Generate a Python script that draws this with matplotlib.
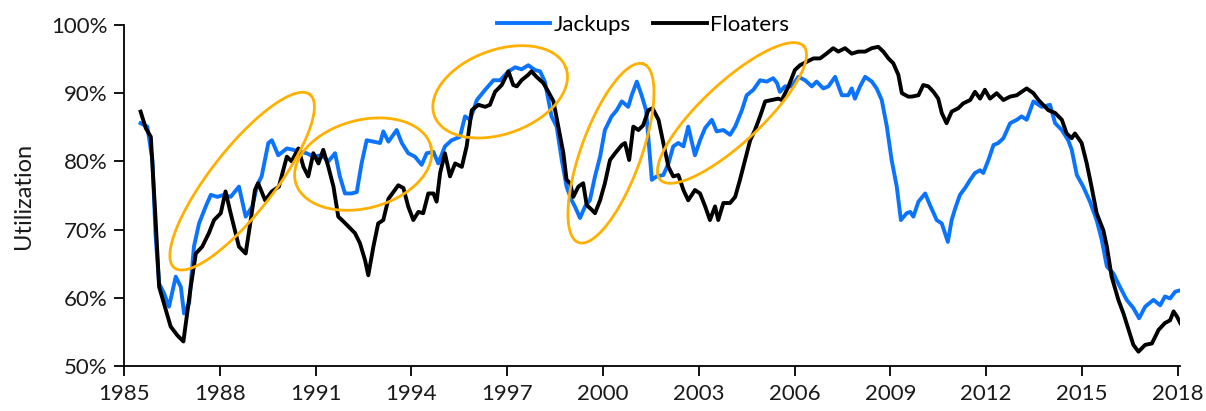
import numpy as np
import matplotlib
matplotlib.use("Agg")
import matplotlib.pyplot as plt
from matplotlib.ticker import FuncFormatter

# ---------------- data ----------------
jack_years = [1985.52, 1985.73, 1985.89, 1985.99, 1986.10, 1986.25, 1986.41, 1986.62, 1986.78, 1986.88,
              1987.04, 1987.19, 1987.35, 1987.56, 1987.72, 1987.92, 1988.13, 1988.34, 1988.60, 1988.81,
              1989.02, 1989.17, 1989.31, 1989.52, 1989.63, 1989.83, 1990.10, 1990.30, 1990.51, 1990.72,
              1990.93, 1991.19, 1991.40, 1991.61, 1991.76, 1991.92, 1992.13, 1992.29, 1992.44, 1992.60,
              1992.81, 1993.02, 1993.12, 1993.28, 1993.54, 1993.70, 1993.90, 1994.11, 1994.32, 1994.48,
              1994.69, 1994.84, 1995.05, 1995.26, 1995.52, 1995.68, 1995.84, 1996.05, 1996.31, 1996.57,
              1996.78, 1997.04, 1997.25, 1997.45, 1997.66, 1997.87, 1998.03, 1998.18, 1998.29, 1998.39,
              1998.55, 1998.71, 1998.86, 1999.02, 1999.12, 1999.28, 1999.44, 1999.59, 1999.75, 1999.91,
              2000.06, 2000.27, 2000.43, 2000.59, 2000.79, 2000.90, 2001.06, 2001.21, 2001.35, 2001.42,
              2001.53, 2001.68, 2001.89, 2002.05, 2002.20, 2002.36, 2002.52, 2002.67, 2002.88, 2003.04,
              2003.20, 2003.41, 2003.56, 2003.77, 2003.98, 2004.14, 2004.35, 2004.50, 2004.71, 2004.92,
              2005.13, 2005.33, 2005.45, 2005.54, 2005.70, 2005.91, 2006.12, 2006.33, 2006.54, 2006.69,
              2006.90, 2007.06, 2007.27, 2007.48, 2007.68, 2007.79, 2007.89, 2008.05, 2008.21, 2008.42,
              2008.57, 2008.73, 2008.89, 2009.04, 2009.20, 2009.33, 2009.51, 2009.62, 2009.72, 2009.88,
              2010.09, 2010.24, 2010.45, 2010.61, 2010.80, 2010.92, 2011.03, 2011.18, 2011.34, 2011.50,
              2011.65, 2011.81, 2011.91, 2012.07, 2012.23, 2012.38, 2012.54, 2012.75, 2012.96, 2013.11,
              2013.27, 2013.48, 2013.64, 2013.74, 2014.00, 2014.16, 2014.37, 2014.57, 2014.68, 2014.84,
              2015.04, 2015.25, 2015.46, 2015.62, 2015.78, 2015.98, 2016.19, 2016.40, 2016.61, 2016.79,
              2016.98, 2017.24, 2017.45, 2017.60, 2017.76, 2017.92, 2018.08]
jack_vals = [85.6, 85.1, 80.2, 69.0, 62.1, 60.7, 58.7, 63.1, 61.6, 57.7,
             59.2, 67.5, 70.9, 73.4, 75.1, 74.8, 75.1, 74.8, 76.3, 71.9,
             73.4, 76.5, 77.8, 82.7, 83.1, 80.9, 81.9, 81.7, 81.4, 81.2,
             80.7, 80.9, 80.0, 81.2, 77.8, 75.3, 75.3, 75.5, 79.7, 83.1,
             82.9, 82.7, 84.4, 82.9, 84.6, 82.7, 81.2, 80.7, 79.5, 81.2,
             81.4, 79.7, 82.2, 83.1, 83.6, 86.6, 86.1, 89.0, 90.5, 91.9,
             91.9, 93.2, 93.8, 93.5, 94.1, 93.4, 93.2, 91.7, 89.0, 86.6,
             85.1, 80.2, 76.3, 74.3, 73.4, 71.7, 73.4, 74.3, 77.8, 80.7,
             84.6, 86.6, 87.5, 88.8, 88.0, 89.7, 91.7, 89.7, 87.5, 83.6,
             77.3, 77.8, 78.0, 79.7, 82.2, 82.7, 82.2, 85.1, 80.9, 83.1,
             84.9, 86.1, 84.4, 84.6, 83.9, 85.1, 87.5, 89.7, 90.5, 91.9,
             91.7, 92.2, 91.5, 90.2, 91.0, 91.0, 92.4, 91.9, 91.0, 91.7,
             90.7, 91.0, 92.4, 89.7, 89.7, 90.7, 89.2, 91.0, 92.4, 91.7,
             90.7, 89.0, 85.1, 80.2, 76.3, 71.4, 72.4, 72.6, 71.9, 74.1,
             75.3, 73.6, 71.4, 70.9, 68.2, 71.4, 73.1, 75.1, 76.1, 77.3,
             78.3, 78.7, 78.3, 80.2, 82.4, 82.7, 83.4, 85.6, 86.1, 86.6,
             86.1, 88.8, 88.3, 88.0, 88.3, 85.6, 84.6, 83.1, 81.7, 78.0,
             76.3, 74.1, 71.4, 68.5, 64.6, 63.6, 61.6, 59.7, 58.5, 57.0,
             58.7, 59.7, 58.9, 60.2, 59.9, 60.9, 61.1]

float_years = [1985.52, 1985.68, 1985.84, 1985.99, 1986.10, 1986.25, 1986.46, 1986.67, 1986.86, 1987.09,
               1987.25, 1987.45, 1987.66, 1987.82, 1988.03, 1988.18, 1988.34, 1988.60, 1988.81, 1988.97,
               1989.10, 1989.20, 1989.42, 1989.63, 1989.85, 1990.10, 1990.25, 1990.46, 1990.62, 1990.77,
               1990.93, 1991.09, 1991.24, 1991.40, 1991.56, 1991.71, 1991.87, 1992.08, 1992.23, 1992.39,
               1992.55, 1992.65, 1992.81, 1992.96, 1993.12, 1993.28, 1993.59, 1993.75, 1993.90, 1994.06,
               1994.22, 1994.37, 1994.53, 1994.69, 1994.79, 1994.90, 1995.05, 1995.21, 1995.37, 1995.58,
               1995.73, 1995.89, 1996.10, 1996.31, 1996.46, 1996.62, 1996.83, 1997.04, 1997.19, 1997.30,
               1997.45, 1997.66, 1997.76, 1997.92, 1998.13, 1998.29, 1998.45, 1998.60, 1998.76, 1998.86,
               1998.97, 1999.07, 1999.23, 1999.38, 1999.49, 1999.65, 1999.75, 1999.91, 2000.06, 2000.22,
               2000.38, 2000.59, 2000.69, 2000.82, 2000.95, 2001.11, 2001.26, 2001.42, 2001.55, 2001.74,
               2001.89, 2002.05, 2002.20, 2002.36, 2002.52, 2002.67, 2002.88, 2003.04, 2003.20, 2003.35,
               2003.51, 2003.61, 2003.77, 2003.98, 2004.14, 2004.29, 2004.45, 2004.61, 2004.76, 2004.92,
               2005.08, 2005.28, 2005.49, 2005.60, 2005.81, 2006.01, 2006.17, 2006.38, 2006.59, 2006.80,
               2007.00, 2007.21, 2007.37, 2007.58, 2007.79, 2008.00, 2008.21, 2008.42, 2008.62, 2008.78,
               2008.94, 2009.09, 2009.25, 2009.36, 2009.56, 2009.67, 2009.88, 2010.03, 2010.19, 2010.35,
               2010.50, 2010.61, 2010.76, 2010.92, 2011.13, 2011.28, 2011.50, 2011.65, 2011.81, 2011.96,
               2012.12, 2012.33, 2012.54, 2012.75, 2012.96, 2013.11, 2013.27, 2013.48, 2013.64, 2013.74,
               2013.95, 2014.16, 2014.37, 2014.52, 2014.68, 2014.78, 2014.99, 2015.15, 2015.30, 2015.46,
               2015.67, 2015.78, 2015.93, 2016.14, 2016.30, 2016.46, 2016.61, 2016.77, 2016.98, 2017.19,
               2017.40, 2017.60, 2017.76, 2017.87, 2017.97, 2018.08]
float_vals = [87.3, 84.9, 83.6, 71.4, 61.6, 59.2, 55.8, 54.5, 53.6, 61.6,
              66.5, 67.5, 69.5, 71.4, 72.4, 75.6, 72.4, 67.5, 66.5, 71.4,
              75.8, 76.8, 74.3, 75.6, 76.3, 80.7, 80.0, 81.9, 79.2, 77.8,
              81.2, 79.7, 81.7, 79.2, 76.3, 71.9, 71.2, 70.2, 69.5, 68.0,
              65.5, 63.3, 67.5, 70.9, 71.4, 74.5, 76.5, 76.1, 73.4, 71.4,
              72.6, 72.4, 75.3, 75.3, 74.1, 78.3, 81.2, 77.8, 79.7, 79.2,
              82.2, 87.5, 88.3, 88.0, 88.3, 90.2, 91.2, 93.2, 91.2, 91.0,
              91.9, 92.7, 93.2, 92.4, 91.5, 90.2, 88.8, 85.1, 81.2, 77.3,
              76.8, 74.8, 76.3, 76.8, 73.6, 72.9, 72.4, 74.3, 76.8, 80.2,
              81.2, 82.4, 82.7, 80.2, 85.1, 84.6, 85.3, 87.5, 87.8, 86.1,
              82.7, 79.2, 77.8, 78.0, 75.8, 74.3, 75.8, 75.3, 73.4, 71.4,
              73.4, 71.4, 73.9, 73.9, 74.8, 77.3, 80.2, 83.1, 84.6, 86.6,
              88.8, 89.0, 89.2, 89.0, 91.0, 93.4, 94.1, 94.6, 95.1, 95.1,
              95.8, 96.6, 96.1, 96.6, 95.8, 96.1, 96.1, 96.6, 96.8, 96.1,
              95.1, 94.4, 92.7, 90.0, 89.5, 89.5, 89.7, 91.2, 91.0, 90.2,
              89.2, 87.1, 85.6, 87.3, 87.8, 88.5, 89.0, 90.2, 89.2, 90.5,
              89.2, 90.0, 89.0, 89.5, 89.7, 90.2, 90.7, 90.0, 89.0, 88.5,
              87.5, 87.1, 86.1, 84.1, 83.4, 84.1, 82.7, 79.7, 76.3, 72.4,
              69.9, 67.5, 63.1, 59.7, 57.7, 55.3, 53.1, 52.1, 53.1, 53.3,
              55.3, 56.3, 56.7, 58.0, 57.3, 56.3]

series_names = ["Jackups", "Floaters"]
x_ticks = list(range(1985, 2019, 3))
y_ticks = [50, 60, 70, 80, 90, 100]

# highlight ellipses: centre (year, %), semi-axes (px), angle (deg)
ell_cx = [1988.70, 1992.49, 1996.78, 2000.25, 2004.04]
ell_cy = [77.1, 79.6, 90.2, 81.2, 87.1]
ell_a = [110, 70, 70, 95, 98]
ell_b = [32, 44, 42, 30, 30]
ell_ang = [52, 15, 20, 70, 43]

# ---------------- styling ----------------
BLUE = "#0A74FF"
BLACK = "#000000"
ORANGE = "#FFB000"
TXT = "#1a1a1a"
FONT = "Lato"
FS = 16

plt.rcParams["font.family"] = [FONT, "DejaVu Sans"]

W, H, DPI = 1206, 411, 100
fig = plt.figure(figsize=(W / DPI, H / DPI), dpi=DPI)
ax = fig.add_axes([124 / W, 1 - 366 / H, (1180.3 - 124) / W, (366 - 25) / H])

xmin, xmax = 1985, 2018.08
ymin, ymax = 50, 100

l1, = ax.plot(jack_years, jack_vals, color=BLUE, lw=2.8, solid_joinstyle="round", zorder=3)
l2, = ax.plot(float_years, float_vals, color=BLACK, lw=2.8, solid_joinstyle="round", zorder=4)

ax.set_xlim(xmin, xmax)
ax.set_ylim(ymin, ymax)
ax.set_xticks(x_ticks)
ax.set_yticks(y_ticks)
ax.yaxis.set_major_formatter(FuncFormatter(lambda v, p: f"{v:.0f}%"))
for s in ["top", "right"]:
    ax.spines[s].set_visible(False)
for s in ["left", "bottom"]:
    ax.spines[s].set_linewidth(1.3)
    ax.spines[s].set_color("#000000")
ax.tick_params(axis="both", direction="out", length=7, width=1.3, labelsize=FS,
               labelcolor=TXT)
ax.tick_params(axis="x", pad=6)
ax.tick_params(axis="y", pad=5)
ax.set_ylabel("Utilization", fontsize=17, color=TXT, labelpad=12)

# ellipses (drawn in pixel units, converted to data units)
bbox = ax.get_window_extent()
ppx = bbox.width / (xmax - xmin)
ppy = bbox.height / (ymax - ymin)
t = np.linspace(0, 2 * np.pi, 300)
for cx, cy, a, b, ang in zip(ell_cx, ell_cy, ell_a, ell_b, ell_ang):
    th = np.deg2rad(ang)
    dx = a * np.cos(t) * np.cos(th) - b * np.sin(t) * np.sin(th)
    dy = a * np.cos(t) * np.sin(th) + b * np.sin(t) * np.cos(th)
    ax.plot(cx + dx / ppx, cy + dy / ppy, color=ORANGE, lw=2.0, zorder=5, clip_on=False)

fig.legend([l1, l2], series_names, loc="center", bbox_to_anchor=(643 / W, 1 - 25 / H),
           ncol=2, frameon=False, fontsize=FS, handlelength=2.4, handletextpad=0.15,
           columnspacing=1.0, borderaxespad=0, borderpad=0)

fig.savefig("out.png", dpi=DPI)
